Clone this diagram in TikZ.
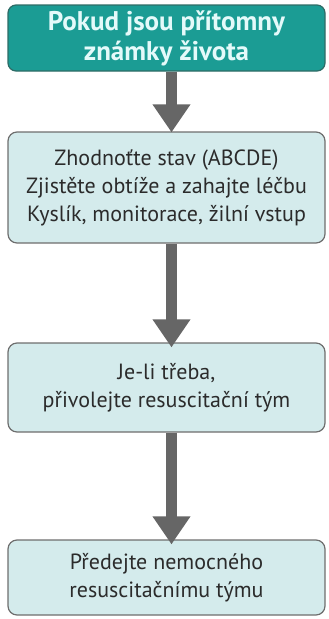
\documentclass[tikz,border=0pt]{standalone}
\usepackage{fontspec}
\setmainfont{PT Sans}
\usetikzlibrary{arrows.meta}
\definecolor{teal1}{HTML}{1B9C94}
\definecolor{tealborder}{HTML}{2E6B66}
\definecolor{lightfill}{HTML}{D4EBEC}
\definecolor{boxborder}{HTML}{6E6E6E}
\definecolor{arrowgray}{HTML}{666666}
\definecolor{txt}{HTML}{2B2B2B}
\definecolor{headtxt}{HTML}{E4FAFA}
\begin{document}
\begin{tikzpicture}[x=1pt,y=-1pt,
  headbox/.style={draw=tealborder, line width=1.2pt, fill=teal1, rounded corners=8pt,
    minimum width=317pt, align=center, text=headtxt, inner sep=0pt,
    font=\fontsize{27}{30}\selectfont\bfseries},
  stepbox/.style={draw=boxborder, line width=1.2pt, fill=lightfill, rounded corners=9pt,
    minimum width=317pt, align=center, text=txt, inner sep=0pt,
    font=\fontsize{22}{28}\selectfont},
  flowarrow/.style={draw=arrowgray, line width=11pt,
    -{Triangle[length=28pt,width=36pt]}}]
\useasboundingbox (0,0) rectangle (329,619);
\node[headbox, minimum height=66pt] (top) at (166.5,38) {Pokud jsou přítomny\\známky života};
\node[stepbox, minimum height=111pt] (b2) at (166.5,187.5) {Zhodnoťte stav (ABCDE)\\Zjistěte obtíže a zahajte léčbu\\Kyslík, monitorace, žilní vstup};
\node[stepbox, minimum height=89pt] (b3) at (166.5,387.5) {Je-li třeba,\\přivolejte resuscitační tým};
\node[stepbox, minimum height=75pt] (b4) at (166.5,577.5) {Předejte nemocného\\resuscitačnímu týmu};
\draw[flowarrow] ([xshift=5pt]top.south) -- ([xshift=5pt,yshift=-1pt]b2.north);
\draw[flowarrow] ([xshift=5pt]b2.south) -- ([xshift=5pt,yshift=-5pt]b3.north);
\draw[flowarrow] ([xshift=5pt]b3.south) -- ([xshift=5pt,yshift=-5pt]b4.north);
\end{tikzpicture}
\end{document}
